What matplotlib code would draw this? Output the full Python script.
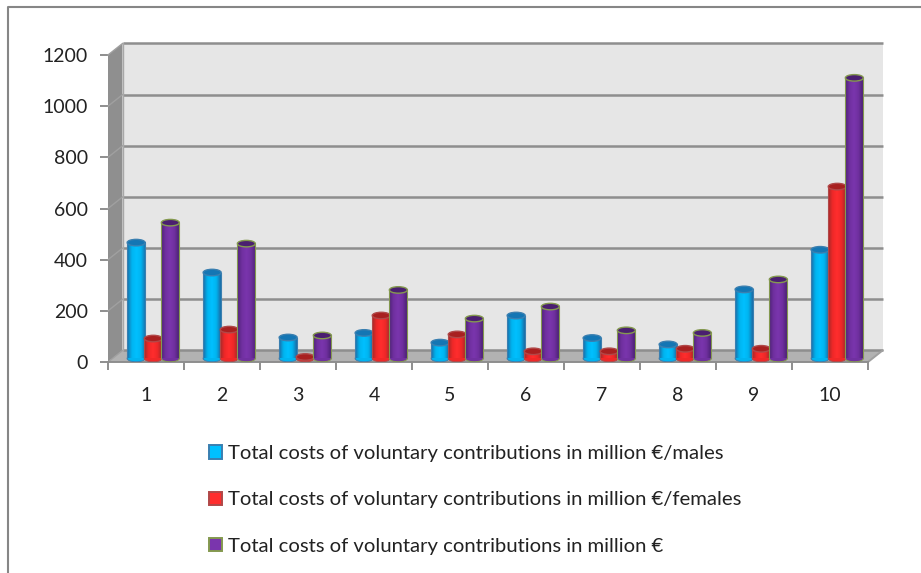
import numpy as np
import matplotlib
matplotlib.use("Agg")
import matplotlib.pyplot as plt
from matplotlib.colors import LinearSegmentedColormap
from matplotlib.lines import Line2D
from matplotlib.patches import Ellipse, Patch, Polygon

plt.rcParams["font.family"] = ["Lato", "DejaVu Sans"]

# data
categories = ["1", "2", "3", "4", "5", "6", "7", "8", "9", "10"]
males = [453, 336, 82, 100, 62, 168, 80, 55, 270, 425]
females = [78, 113, 6, 168, 94, 28, 28, 38, 38, 672]
totals = [531, 449, 90, 268, 156, 203, 110, 100, 309, 1097]
y_ticks = [0, 200, 400, 600, 800, 1000, 1200]
labels = [
    "Total costs of voluntary contributions in million €/males",
    "Total costs of voluntary contributions in million €/females",
    "Total costs of voluntary contributions in million €",
]

# style: (values, gradient, top colour, edge colour)
series = [
    (males, ["#1a6ea8", "#00b4f0", "#00c0ff", "#00b4f0", "#1a6ea8"], "#1476b4", "#3a7fb0"),
    (females, ["#a52a2a", "#f02828", "#ff2d2d", "#f02828", "#a52a2a"], "#a82020", "#b04848"),
    (totals, ["#4f2378", "#7030a0", "#7a35ad", "#7030a0", "#4f2378"], "#4a1f70", "#84994f"),
]

W, H = 921, 573
PX_X = 76.0    # pixels per category
PX_Y = 0.2558  # pixels per unit
DEPTH_X = 14.5 / PX_X
DEPTH_Y = 11.5 / PX_Y
BAR_W = 18 / PX_X
BASE_Y = 3.5 / PX_Y
ELL_H = 6.5 / PX_Y

fig = plt.figure(figsize=(W / 100, H / 100), dpi=100)
ax = fig.add_axes([108 / W, 1 - 362 / H, 760 / W, 307.0 / H])
ax.set_facecolor("none")

n = len(categories)
top = y_ticks[-1]

# walls and floor
ax.add_patch(Polygon([(DEPTH_X, DEPTH_Y), (n + DEPTH_X, DEPTH_Y), (n + DEPTH_X, top + DEPTH_Y),
                      (DEPTH_X, top + DEPTH_Y)], fc="#e6e6e6", ec="none", zorder=1, clip_on=False))
ax.add_patch(Polygon([(0, 0), (DEPTH_X, DEPTH_Y), (DEPTH_X, top + DEPTH_Y), (0, top)],
                     fc="#8f8f8f", ec="none", zorder=1, clip_on=False))
ax.add_patch(Polygon([(0, 0), (n, 0), (n + DEPTH_X, DEPTH_Y), (DEPTH_X, DEPTH_Y)],
                     fc="#b2b2b2", ec="none", zorder=1, clip_on=False))

# gridlines on the back wall and the slanted bit on the side wall
for t in y_ticks:
    ax.plot([DEPTH_X, n + DEPTH_X], [t + DEPTH_Y, t + DEPTH_Y], color="#8e8e8e", lw=1.8,
            zorder=2, clip_on=False, solid_capstyle="butt")
    ax.plot([0, DEPTH_X], [t, t + DEPTH_Y], color="#a0a0a0", lw=1.0, zorder=2, clip_on=False)
ax.plot([n, n + DEPTH_X], [0, DEPTH_Y], color="#a0a0a0", lw=1.4, zorder=2, clip_on=False)
ax.plot([DEPTH_X, DEPTH_X], [DEPTH_Y, top + DEPTH_Y], color="#a8a8a8", lw=1.0, zorder=2, clip_on=False)

# cylinders
for s, (vals, grad, top_col, edge) in enumerate(series):
    cmap = LinearSegmentedColormap.from_list("cyl", grad)
    z = 3 + s
    for i, v in enumerate(vals):
        xc = i + 0.5 + DEPTH_X / 2 + (s - 1) * BAR_W * 0.95
        x0, x1 = xc - BAR_W / 2, xc + BAR_W / 2
        y0, y1 = BASE_Y, BASE_Y + v
        ax.add_patch(Ellipse((xc, y0), BAR_W, ELL_H, fc=grad[1], ec=edge, lw=0.7, zorder=z))
        ax.imshow(np.linspace(0, 1, 32).reshape(1, -1), extent=[x0, x1, y0, y1], cmap=cmap,
                  aspect="auto", zorder=z, interpolation="bilinear", clip_on=False)
        ax.plot([x0, x0], [y0, y1], color=edge, lw=0.8, zorder=z, clip_on=False)
        ax.plot([x1, x1], [y0, y1], color=edge, lw=0.8, zorder=z, clip_on=False)
        ax.add_patch(Ellipse((xc, y1), BAR_W, ELL_H, fc=top_col, ec=edge, lw=1.0, zorder=z, clip_on=False))

ax.set_xlim(0, n)
ax.set_ylim(0, top)

# axes
ax.set_xticks(range(n + 1))
ax.set_xticklabels([])
ax.set_xticks(np.arange(n) + 0.5, categories, minor=True)
ax.set_yticks(y_ticks)
ax.tick_params(axis="x", which="major", length=5.5, width=1.4, color="#8e8e8e")
ax.tick_params(axis="x", which="minor", length=0, pad=18, labelsize=14, labelcolor="#222222")
ax.tick_params(axis="y", length=5.5, width=1.4, color="#8e8e8e", labelsize=14,
               labelcolor="#222222", pad=9)
for side in ["top", "right", "left"]:
    ax.spines[side].set_visible(False)
ax.spines["bottom"].set_color("#8e8e8e")
ax.spines["bottom"].set_linewidth(1.4)

# legend
handles = [Patch(facecolor=g[2], edgecolor=e, linewidth=1.4) for _, g, _, e in series]
fig.legend(handles, labels, loc="upper left", bbox_to_anchor=(201 / W, 1 - 437 / H),
           frameon=False, fontsize=14.55, labelcolor="#222222", handlelength=0.65, handleheight=0.65,
           handletextpad=0.27, labelspacing=1.45, borderpad=0.4, borderaxespad=0)

# outer frame
fig.add_artist(Line2D([8 / W, 8 / W, 1], [0, 1 - 7 / H, 1 - 7 / H], color="#868686", lw=1.5))

fig.savefig("out.png", dpi=100)
